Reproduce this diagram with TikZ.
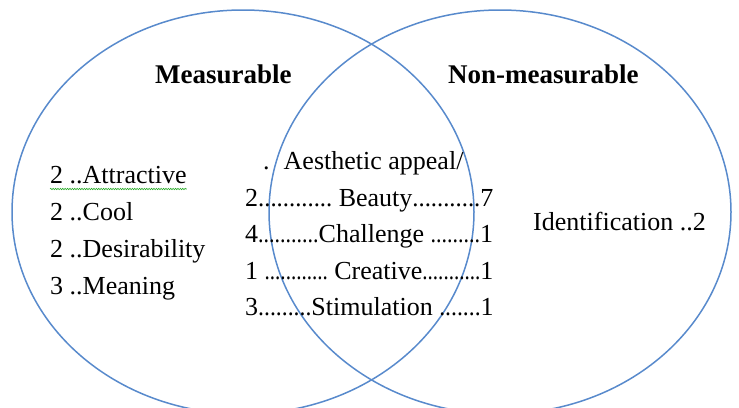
\documentclass[tikz,border=0pt]{standalone}
\usepackage{fontspec}
\usepackage{graphicx}
\setmainfont{Liberation Serif}
\usetikzlibrary{shapes.geometric,decorations.pathmorphing}
\definecolor{vennblue}{RGB}{88,138,204}
\definecolor{spellgreen}{RGB}{40,170,40}
\newcommand\dts[2]{\scalebox{#1}[1]{#2}}
\begin{document}
\begin{tikzpicture}[x=1pt,y=-1pt,
  venn/.style={ellipse,draw=vennblue,line width=1.5pt,minimum width=462pt,minimum height=404pt,inner sep=0pt},
  lbl/.style={font=\fontsize{26}{30}\selectfont,inner sep=0pt,anchor=base west},
  head/.style={font=\fontsize{27}{31}\selectfont\bfseries,inner sep=0pt,anchor=base west},
  squiggle/.style={draw=spellgreen,line width=0.6pt,decorate,decoration={snake,amplitude=0.7pt,segment length=2.4pt}}]
\useasboundingbox (0,0) rectangle (739,407);
\node[venn] (L) at (243,212) {};
\node[venn] (R) at (500,212) {};
\node[head] (meas) at (155,83) {Measurable};
\node[head] (nonmeas) at (448,83) {Non-measurable};
\node[lbl] (att) at (50,183) {2 ..Attractive};
\node[lbl] (cool) at (50,220) {2 ..Cool};
\node[lbl] (des) at (50,257) {2 ..Desirability};
\node[lbl] (mean) at (50,294) {3 ..Meaning};
\draw[squiggle] ([yshift=-6pt]att.base west) -- ([yshift=-6pt]att.base east);
\node[lbl] (aes) at (263,169) {.\hspace{14pt}Aesthetic appeal/};
\node[lbl] (beauty) at (245,206) {2\dts{0.95}{............} Beauty\dts{0.95}{...........}7};
\node[lbl] (chal) at (245,242) {4\dts{0.846}{...........}Challenge \dts{0.846}{.........}1};
\node[lbl] (crea) at (245,279) {1 \dts{0.81}{............} Creative\dts{0.81}{...........}1};
\node[lbl] (stim) at (245,315) {3\dts{0.91}{.........}Stimulation \dts{0.91}{.......}1};
\node[lbl] (ident) at (533,230) {Identification ..2};
\end{tikzpicture}
\end{document}
